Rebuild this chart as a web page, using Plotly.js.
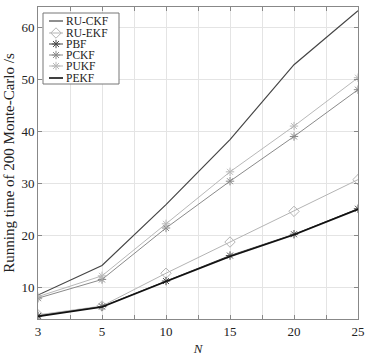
<!DOCTYPE html>
<html>
<head>
<meta charset="utf-8">
<script src="https://cdn.plot.ly/plotly-3.0.1.min.js"></script>
<style>html,body{margin:0;padding:0;background:#fff;}#chart{width:377px;height:360px;}</style>
</head>
<body>
<div id="chart"></div>
<script>
const N = ["3", "5", "10", "15", "20", "25"];
const seriesNames = ["RU-CKF", "RU-EKF", "PBF", "PCKF", "PUKF", "PEKF"];
const ruCKF = [8.6, 14.3, 26.0, 38.5, 52.9, 63.3];
const ruEKF = [4.8, 6.5, 12.8, 18.8, 24.7, 30.8];
const pBF = [4.6, 6.4, 11.3, 16.2, 20.3, 25.2];
const pCKF = [8.0, 11.6, 21.5, 30.5, 39.1, 48.1];
const pUKF = [8.3, 12.3, 22.3, 32.3, 41.1, 50.4];
const pEKF = [4.5, 6.3, 11.2, 16.0, 20.2, 25.1];
const yTicks = [10, 20, 30, 40, 50, 60];

const xIdx = N.map((_, i) => i);
const font = "Liberation Serif, Times New Roman, serif";
const Y0 = 4, Y1 = 64, PW = 320, PH = 312;

const styles = [
  {color: '#454545', width: 1.2, symbol: null, size: 0},
  {color: '#b4b4b4', width: 1, symbol: 'diamond-open', size: 8},
  {color: '#4a4a4a', width: 1, symbol: 'asterisk-open', size: 7},
  {color: '#8a8a8a', width: 1, symbol: 'asterisk-open', size: 7},
  {color: '#b8b8b8', width: 1, symbol: 'asterisk-open', size: 7},
  {color: '#111111', width: 1.6, symbol: null, size: 0}
];
const values = [ruCKF, ruEKF, pBF, pCKF, pUKF, pEKF];

const data = [];
values.forEach((y, i) => {
  const s = styles[i];
  const t = {
    x: xIdx, y: y, name: seriesNames[i], type: 'scatter',
    mode: s.symbol ? 'lines+markers' : 'lines',
    line: {color: s.color, width: s.width},
    showlegend: false
  };
  if (s.symbol) t.marker = {symbol: s.symbol, size: s.size, color: s.color, line: {color: s.color, width: 1}};
  data.push(t);
});

// hand-made legend box (pixel offsets inside plot area converted to axis units)
const px2x = p => p * (xIdx.length - 1) / PW;
const px2y = p => Y1 - p * (Y1 - Y0) / PH;
const legRows = [14, 26, 37, 48, 59, 71];
const shapes = [{
  type: 'rect', xref: 'x', yref: 'y', x0: px2x(5), x1: px2x(81), y0: px2y(6), y1: px2y(77),
  fillcolor: '#fff', line: {color: '#777', width: 1}, layer: 'between'
}];
const annotations = [];
seriesNames.forEach((nm, i) => {
  const s = styles[i];
  const yy = legRows[i];
  data.push({
    x: [11, 25], y: [yy, yy], xaxis: 'x2', yaxis: 'y2', type: 'scatter', mode: 'lines',
    line: {color: s.color, width: s.width}, showlegend: false, hoverinfo: 'skip'
  });
  if (s.symbol) {
    data.push({
      x: [18], y: [yy], xaxis: 'x2', yaxis: 'y2', type: 'scatter', mode: 'markers',
      marker: {symbol: s.symbol, size: s.size, color: s.color, line: {color: s.color, width: 1}},
      showlegend: false, hoverinfo: 'skip'
    });
  }
  annotations.push({
    xref: 'x2', yref: 'y2', x: 26, y: yy, xanchor: 'left', yanchor: 'middle',
    text: nm, showarrow: false, font: {family: font, size: 11.5, color: '#222'}
  });
});

const layout = {
  width: 377, height: 360,
  margin: {l: 38, r: 19, t: 7, b: 41},
  paper_bgcolor: '#fff', plot_bgcolor: '#fff',
  font: {family: font, size: 12, color: '#222'},
  showlegend: false,
  shapes: shapes,
  annotations: annotations,
  xaxis: {
    range: [0, xIdx.length - 1],
    tickmode: 'array', tickvals: xIdx, ticktext: N,
    showgrid: true, gridcolor: '#e4e4e4', gridwidth: 1,
    zeroline: false,
    showline: true, linecolor: '#888', linewidth: 1, mirror: 'ticks',
    ticks: 'inside', ticklen: 4, tickcolor: '#888',
    minor: {dtick: 0.5, tick0: 0, showgrid: true, gridcolor: '#e4e4e4', ticks: 'inside', ticklen: 4, tickcolor: '#888'},
    tickfont: {family: font, size: 13, color: '#222'},
    title: {text: '<i>N</i>', font: {family: font, size: 13, color: '#222'}, standoff: 6}
  },
  yaxis: {
    range: [Y0, Y1],
    tickmode: 'array', tickvals: yTicks, ticktext: yTicks.map(String),
    showgrid: true, gridcolor: '#e4e4e4', gridwidth: 1,
    zeroline: false,
    showline: true, linecolor: '#888', linewidth: 1, mirror: 'ticks',
    ticks: 'inside', ticklen: 4, tickcolor: '#888',
    tickfont: {family: font, size: 13, color: '#222'},
    title: {text: 'Running time of 200 Monte-Carlo /s', font: {family: font, size: 15, color: '#222'}, standoff: 3}
  },
  xaxis2: {overlaying: 'x', anchor: 'y2', range: [0, PW], visible: false, showgrid: false, zeroline: false},
  yaxis2: {overlaying: 'y', anchor: 'x2', range: [PH, 0], visible: false, showgrid: false, zeroline: false}
};

Plotly.newPlot('chart', data, layout, {displayModeBar: false, staticPlot: true});
</script>
</body>
</html>
